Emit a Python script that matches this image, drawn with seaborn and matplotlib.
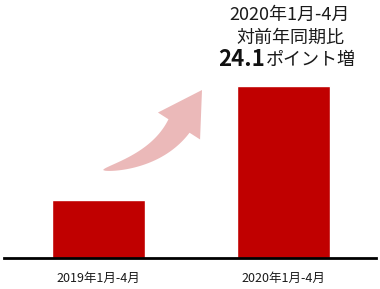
import matplotlib
matplotlib.use("Agg")
import matplotlib.pyplot as plt
import seaborn as sns
import pandas as pd
import numpy as np
from matplotlib.patches import Polygon

categories = ["2019年1月-4月", "2020年1月-4月"]
values = [12.3, 36.4]
title_lines = ["2020年1月-4月", "対前年同期比"]
diff_value = "24.1"
diff_suffix = "ポイント増"

sns.set_theme(style="white")
plt.rcParams['font.family'] = ['Noto Sans CJK JP', 'DejaVu Sans']

df = pd.DataFrame({"period": categories, "value": values})

W, H = 380, 289
fig = plt.figure(figsize=(3.8, 2.89), dpi=100)
ax = fig.add_axes([4/W, 31/H, 372/W, 258/H])
sns.barplot(data=df, x="period", y="value", color="#c00000", saturation=1,
            width=0.504, ax=ax)
ax.set_xlim(-0.512, 1.504)
ax.set_ylim(0, values[1] * 258 / 172)
for s in ["top", "left", "right"]:
    ax.spines[s].set_visible(False)
ax.spines["bottom"].set_color("black")
ax.spines["bottom"].set_linewidth(2)
ax.set_xlabel("")
ax.set_ylabel("")
ax.set_yticks([])
ax.tick_params(axis="x", length=0, labelsize=9, pad=10, colors="#1a1a1a")

# decorative tapered curved arrow (pixel geometry -> figure fraction)
P0 = np.array([103.0, 170.0])
P2 = np.array([179.0, 126.0])
tip = np.array([202.0, 90.0])
d = (tip - P2) / np.linalg.norm(tip - P2)
P1 = P2 - 40 * d
t = np.linspace(0, 1, 60)
pts = ((1 - t)[:, None] ** 2) * P0 + (2 * (1 - t) * t)[:, None] * P1 + (t ** 2)[:, None] * P2
tan = (2 * (1 - t))[:, None] * (P1 - P0) + (2 * t)[:, None] * (P2 - P1)
tan /= np.linalg.norm(tan, axis=1)[:, None]
nrm = np.stack([-tan[:, 1], tan[:, 0]], axis=1)
wid = 25 * t ** 0.6
left = pts + nrm * (wid / 2)[:, None]
right = pts - nrm * (wid / 2)[:, None]
n_end = np.array([-d[1], d[0]])
head = [P2 + n_end * 25, tip, P2 - n_end * 25]
poly = np.vstack([left, [head[0]], [tip], [head[2]], right[::-1]])
poly_fig = np.column_stack([poly[:, 0] / W, 1 - poly[:, 1] / H])
fig.patches.append(Polygon(poly_fig, closed=True, transform=fig.transFigure,
                           facecolor="#ebb9b9", edgecolor="none"))

cx = 290 / W
fig.text(cx, 1 - 15/H, title_lines[0], ha="center", va="center", fontsize=13, color="#1a1a1a")
fig.text(cx, 1 - 38/H, title_lines[1], ha="center", va="center", fontsize=13, color="#1a1a1a")

# mixed bold / normal line
fig.canvas.draw()
r = fig.canvas.get_renderer()
t1 = fig.text(0, 1 - 60/H, diff_value, ha="left", va="center", fontsize=16,
              fontweight="bold", color="#111111")
t2 = fig.text(0, 1 - 60/H, diff_suffix, ha="left", va="center", fontsize=13,
              color="#1a1a1a")
w1 = t1.get_window_extent(r).width / fig.bbox.width
w2 = t2.get_window_extent(r).width / fig.bbox.width
x0 = (287 / W) - (w1 + w2) / 2
t1.set_x(x0)
t2.set_x(x0 + w1)

fig.savefig("out.png", dpi=100)
